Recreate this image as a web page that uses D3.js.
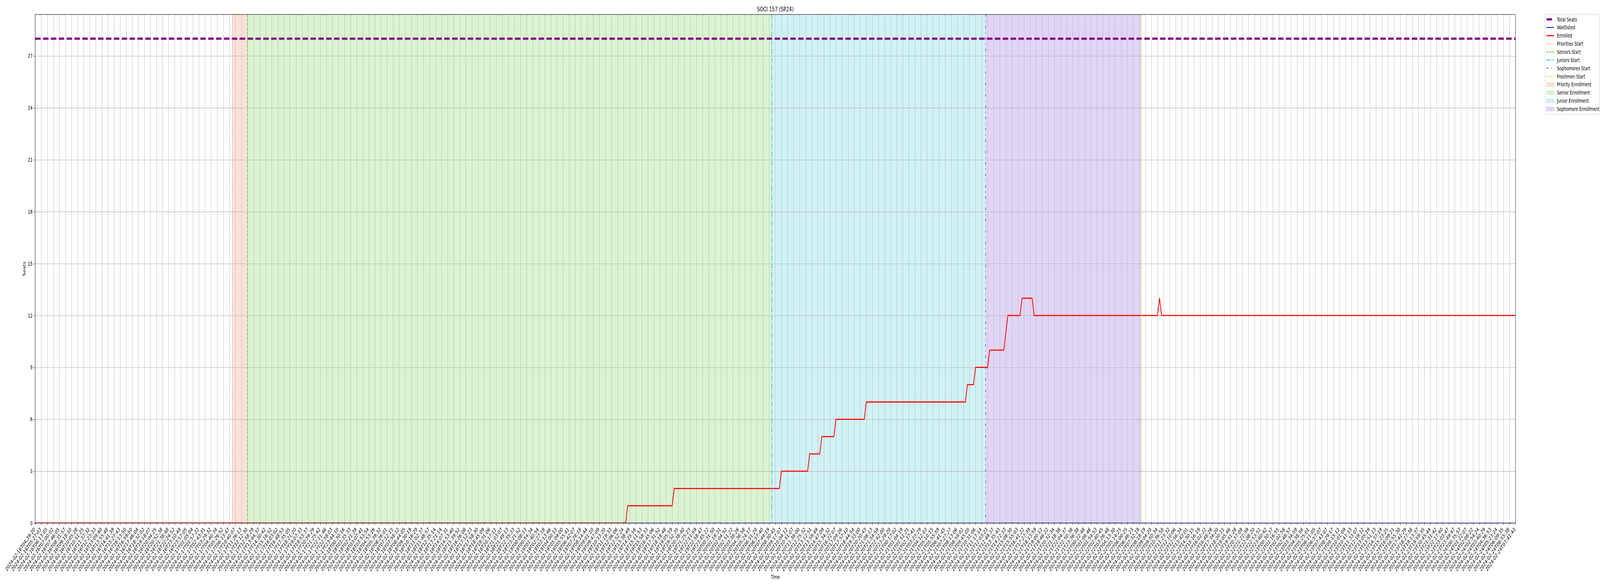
<!DOCTYPE html>
<html>
<head>
<meta charset="utf-8">
<script src="https://cdn.jsdelivr.net/npm/d3@7"></script>
<style>
  html, body { margin: 0; padding: 0; overflow: hidden; background: #fff; }
  svg { display: block; font-family: "DejaVu Sans", sans-serif; }
</style>
</head>
<body>
<svg id="chart" viewBox="0 0 6000 1500" preserveAspectRatio="none"></svg>
<script>
// ---- data ----
const courseTitle = "SOCI 157 (SP24)";
const totalSeats = 28;

// one tick every third sample, labels grouped by day
const tickDays = ["2024-02-16", "2024-02-17", "2024-02-18", "2024-02-19", "2024-02-20",
                  "2024-02-21", "2024-02-22", "2024-02-23", "2024-02-24"];
const tickTimes = [
  ["04:39:20","05:27:03","06:13:05","07:00:02","07:46:05","08:31:57","09:18:10","10:05:28","10:51:25",
   "11:37:32","12:23:33","13:09:40","13:55:48","14:41:39","15:27:43","16:13:50","16:59:50","17:46:04",
   "18:32:02","19:18:07","20:04:25","20:52:38","21:38:48","22:24:52","23:10:49","23:57:05"],
  ["01:05:04","01:57:22","02:43:31","03:29:32","04:40:34","05:26:52","06:13:47","10:40:07","11:26:13",
   "12:12:30","12:58:29","13:44:37","14:30:42","15:16:52","16:03:02","16:48:53","17:35:05","18:21:20",
   "19:07:33","19:53:37","20:39:29","21:25:42","22:11:46","22:58:03","23:44:10"],
  ["00:30:16","01:35:33","02:21:39","03:07:41","03:53:54","04:53:16","05:39:32","06:26:01","07:12:15",
   "07:58:12","08:44:05","09:30:19","10:16:29","11:02:37","11:48:57","12:35:14","13:21:14","14:07:31",
   "14:53:40","15:39:52","16:26:08","17:12:23","17:58:30","18:45:09","19:31:06","20:17:11","21:03:07",
   "21:49:13","22:35:33","23:21:52"],
  ["00:08:13","00:54:34","01:40:54","02:27:18","03:13:46","04:00:13","05:09:00","05:55:41","06:42:07",
   "07:28:18","08:14:44","09:01:10","09:47:09","10:33:20","11:19:33","12:06:06","12:52:24","13:38:49",
   "14:25:16","15:11:53","15:58:33","16:45:06","17:31:52","18:18:48","19:05:59","19:52:35","20:38:40",
   "21:25:23","22:11:59","22:58:47","23:45:22"],
  ["00:31:50","01:18:31","02:04:52","02:51:22","03:38:26","04:36:58","05:24:17","06:11:20","06:57:40",
   "07:44:19","08:30:45","09:17:07","10:04:12","10:51:07","11:38:00","12:25:32","13:12:51","13:59:49",
   "14:47:09","15:34:32","16:22:07","17:09:26","17:57:10","18:44:54","19:33:00","20:20:43","21:08:13",
   "21:54:59","22:42:00","23:29:20"],
  ["00:17:02","01:04:19","01:51:21","02:37:41","03:23:29","04:12:03","05:10:15","05:55:59","06:41:45",
   "07:27:27","08:13:06","08:59:02","09:45:05","10:31:06","11:17:14","12:03:23","12:49:37","13:35:43",
   "14:22:13","15:08:30","15:55:03","16:41:22","17:27:39","18:13:59","19:00:12","19:46:22","20:32:34",
   "21:18:38","22:04:37","22:50:38","23:36:38"],
  ["00:22:48","01:08:46","01:54:53","02:40:45","03:26:48","04:13:30","05:14:25","06:00:25","06:46:23",
   "07:32:19","08:18:19","09:04:20","09:50:34","10:36:58","11:23:32","12:10:06","12:56:34","13:43:01",
   "14:30:15","15:16:19","16:02:22","16:48:28","17:34:20","18:20:11","19:05:46","19:51:28","20:37:09",
   "21:22:39","22:08:20","22:53:51","23:40:42"],
  ["00:30:37","01:16:55","02:02:58","02:48:57","03:34:59","04:38:56","05:25:01","06:11:05","06:57:07",
   "07:43:07","08:29:17","09:15:12","10:01:09","10:47:13","11:33:07","12:19:12","13:05:19","13:51:13",
   "14:37:19","15:23:25","16:09:21","16:55:30","17:41:29","18:27:38","19:13:37","19:59:35","20:45:44",
   "21:31:42","22:17:40","23:03:47","23:49:47"],
  ["00:35:57","01:22:07","02:08:22","02:54:24","03:40:29","04:36:53","05:23:24","06:09:35","06:55:38",
   "07:41:43"]
];
const samplesPerTick = 3;

// enrolled / waitlisted counts as [value, number of samples]
const enrolledRuns = [[0, 293], [1, 23], [2, 53], [3, 14], [4, 6], [5, 7], [6, 15], [7, 50],
                      [8, 4], [9, 7], [10, 8], [11, 1], [12, 7], [13, 6], [12, 62], [13, 1], [12, 176]];
const waitlistedRuns = [[0, 733]];

// enrollment phase starts, in sample index
const eventNames = ["Priorities Start", "Seniors Start", "Juniors Start", "Sophomores Start", "Freshmen Start"];
const eventIndex = [97.5, 105, 364.3, 470, 547];
const spanNames = ["Priority Enrollment", "Senior Enrollment", "Junior Enrollment", "Sophomore Enrollment"];

const yTicks = [0, 3, 6, 9, 12, 15, 18, 21, 24, 27];

// ---- styles ----
const eventColors = ["#e9703a", "#46c81e", "#17becf", "#6a2bd9", "#dede33"];
const eventDash = ["2.1,3.4", "7.7,3.3", "13.3,3.3,2.1,3.3", "6.2,10.4,2.1,10.4", "6,2.2,2,2.2"];

// ---- build ----
const tickLabels = tickDays.flatMap((d, k) => tickTimes[k].map(t => d + "T" + t));

function expandRuns(runs) {
  const out = [];
  runs.forEach(([v, n]) => { for (let j = 0; j < n; j++) out.push({i: out.length, v: v}); });
  return out;
}
const enrolled = expandRuns(enrolledRuns);
const waitlisted = expandRuns(waitlistedRuns);
const lastIndex = (tickLabels.length - 1) * samplesPerTick;

// the drawing is laid out on a 6000x1500 canvas and stretched to the window
const plotL = 131.7, plotR = 5683, plotT = 37, plotB = 1339;
const svg = d3.select("#chart")
  .style("width", window.innerWidth + "px")
  .style("height", window.innerHeight + "px");

const x = d3.scaleLinear().domain([0, lastIndex]).range([plotL, plotR]);
const y = d3.scaleLinear().domain([0, totalSeats * 1.05]).range([plotB, plotT]);

svg.append("defs").append("clipPath").attr("id", "plot_clip")
  .append("rect").attr("x", plotL).attr("y", plotT).attr("width", plotR - plotL).attr("height", plotB - plotT);

const plot = svg.append("g").attr("clip-path", "url(#plot_clip)");

// spans
const spans = spanNames.map((name, k) => ({name: name, x0: eventIndex[k], x1: eventIndex[k + 1], color: eventColors[k]}));
plot.selectAll(".span").data(spans).enter().append("rect")
  .attr("class", "span")
  .attr("x", d => x(d.x0))
  .attr("width", d => x(d.x1) - x(d.x0))
  .attr("y", plotT)
  .attr("height", plotB - plotT)
  .attr("fill", d => d.color)
  .attr("fill-opacity", 0.2);

// grid
const tickValues = d3.range(0, lastIndex + 1, samplesPerTick);
plot.append("g")
  .attr("transform", `translate(0,${plotB})`)
  .call(d3.axisBottom(x).tickValues(tickValues).tickSize(-(plotB - plotT)).tickFormat(""))
  .call(g => g.select(".domain").remove())
  .selectAll("line").attr("stroke", "#b0b0b0").attr("stroke-width", 1.1);
plot.append("g")
  .attr("transform", `translate(${plotL},0)`)
  .call(d3.axisLeft(y).tickValues(yTicks).tickSize(-(plotR - plotL)).tickFormat(""))
  .call(g => g.select(".domain").remove())
  .selectAll("line").attr("stroke", "#b0b0b0").attr("stroke-width", 1.1);

// lines
plot.append("line")
  .attr("x1", plotL).attr("x2", plotR)
  .attr("y1", y(totalSeats)).attr("y2", y(totalSeats))
  .attr("stroke", "#800080").attr("stroke-width", 5.6)
  .attr("stroke-dasharray", "20.6,8.9");

const line = d3.line().x(d => x(d.i)).y(d => y(d.v));
plot.append("path").datum(waitlisted)
  .attr("d", line).attr("fill", "none")
  .attr("stroke", "#0000ff").attr("stroke-width", 2.1);
plot.append("path").datum(enrolled)
  .attr("d", line).attr("fill", "none")
  .attr("stroke", "#ff0000").attr("stroke-width", 2.8)
  .attr("stroke-linejoin", "round");

plot.selectAll(".event").data(eventIndex).enter().append("line")
  .attr("class", "event")
  .attr("x1", d => x(d)).attr("x2", d => x(d))
  .attr("y1", plotT).attr("y2", plotB)
  .attr("stroke", (d, k) => eventColors[k])
  .attr("stroke-width", 2.1)
  .attr("stroke-dasharray", (d, k) => eventDash[k]);

// axes
const xAxis = svg.append("g")
  .attr("transform", `translate(0,${plotB})`)
  .call(d3.axisBottom(x).tickValues(tickValues).tickSize(4.9)
        .tickFormat(d => tickLabels[d / samplesPerTick]));
xAxis.select(".domain").remove();
xAxis.selectAll(".tick line").attr("stroke", "#000").attr("stroke-width", 1.1);
xAxis.selectAll(".tick text")
  .attr("x", 0).attr("y", 0).attr("dy", 0)
  .attr("text-anchor", "end")
  .attr("transform", "translate(0.5,17) rotate(-45)")
  .attr("font-size", 13.9)
  .attr("font-family", "DejaVu Sans")
  .attr("fill", "#000");

const yAxis = svg.append("g")
  .attr("transform", `translate(${plotL},0)`)
  .call(d3.axisLeft(y).tickValues(yTicks).tickSize(4.9).tickPadding(4.9));
yAxis.select(".domain").remove();
yAxis.selectAll(".tick line").attr("stroke", "#000").attr("stroke-width", 1.1);
yAxis.selectAll(".tick text")
  .attr("font-size", 13.9)
  .attr("font-family", "DejaVu Sans")
  .attr("fill", "#000");

svg.append("rect")
  .attr("x", plotL).attr("y", plotT)
  .attr("width", plotR - plotL).attr("height", plotB - plotT)
  .attr("fill", "none").attr("stroke", "#000").attr("stroke-width", 1.1);

// titles
svg.append("text")
  .attr("x", (plotL + plotR) / 2).attr("y", 28.7)
  .attr("text-anchor", "middle").attr("font-size", 16.7)
  .text(courseTitle);
svg.append("text")
  .attr("x", (plotL + plotR) / 2).attr("y", 1482)
  .attr("text-anchor", "middle").attr("font-size", 13.9)
  .text("Time");
svg.append("text")
  .attr("transform", `translate(95,${(plotT + plotB) / 2}) rotate(-90)`)
  .attr("text-anchor", "middle").attr("font-size", 13.9)
  .text("Seats");

// legend
const legendItems = [
  {label: "Total Seats", kind: "line", color: "#800080", width: 5.6, dash: "20.6,8.9"},
  {label: "Waitlisted", kind: "line", color: "#0000ff", width: 2.1, dash: null},
  {label: "Enrolled", kind: "line", color: "#ff0000", width: 2.8, dash: null}
].concat(eventNames.map((n, k) => ({label: n, kind: "line", color: eventColors[k], width: 2.1, dash: eventDash[k]})))
 .concat(spans.map(s => ({label: s.name, kind: "patch", color: s.color})));

const lx = 5795, ly = 37, rowH = 20.85;
const legend = svg.append("g");
legend.append("rect")
  .attr("x", lx).attr("y", ly)
  .attr("width", 204).attr("height", 256)
  .attr("rx", 3)
  .attr("fill", "#fff").attr("fill-opacity", 0.8)
  .attr("stroke", "#cccccc").attr("stroke-width", 1.1);

const rows = legend.selectAll(".row").data(legendItems).enter().append("g")
  .attr("class", "row")
  .attr("transform", (d, k) => `translate(${lx},${ly + 5.6 + 6.95 + k * rowH})`);
rows.filter(d => d.kind === "line").append("line")
  .attr("x1", 4.5).attr("x2", 32.3).attr("y1", 0).attr("y2", 0)
  .attr("stroke", d => d.color).attr("stroke-width", d => d.width)
  .attr("stroke-dasharray", d => d.dash);
rows.filter(d => d.kind === "patch").append("rect")
  .attr("x", 4.5).attr("y", -4.9).attr("width", 27.8).attr("height", 9.7)
  .attr("fill", d => d.color).attr("fill-opacity", 0.2)
  .attr("stroke", d => d.color).attr("stroke-opacity", 0.25);
rows.append("text")
  .attr("x", 43.4).attr("y", 5)
  .attr("font-size", 13.9)
  .text(d => d.label);
</script>
</body>
</html>
